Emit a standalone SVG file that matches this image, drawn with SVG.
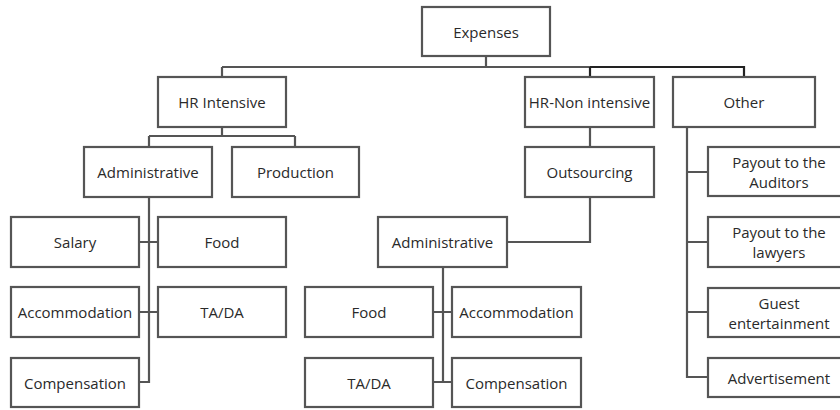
<svg xmlns="http://www.w3.org/2000/svg" width="840" height="410" viewBox="0 0 840 410">
<style>
rect.n{fill:#fff;stroke:#555;stroke-width:2.2}
text{font-family:"Open Sans","Liberation Sans",sans-serif;font-size:15px;fill:#2a2a2a;text-anchor:middle;dominant-baseline:central}
.c path{fill:none;stroke:#555;stroke-width:2.2}
</style>
<rect width="840" height="410" fill="#fff"/>
<g class="c" id="connectors">
<path d="M486 56V67M222 67H590"/>
<path d="M590 67H744V77M590 67V77" style="stroke:#222"/>
<path d="M222 67V77"/>
<path d="M222 127V136M149 136H295M149 136V147M295 136V147"/>
<path d="M149 197V382H139M139 242H158M139 312H158"/>
<path d="M590 127V147M590 197V242H507"/>
<path d="M443 267V382M433 312H452M433 382H452"/>
<path d="M687 127V377H708M687 172H708M687 242H708M687 312H708"/>
</g>
<g id="expenses"><rect class="n" x="422" y="7" width="128" height="49"/><text x="486" y="31.5">Expenses</text></g>
<g id="hr-intensive"><rect class="n" x="158" y="77" width="128" height="50"/><text x="222" y="102">HR Intensive</text></g>
<g id="hr-non-intensive"><rect class="n" x="525" y="77" width="129" height="50"/><text x="589.5" y="102">HR-Non intensive</text></g>
<g id="other"><rect class="n" x="673" y="77" width="142" height="50"/><text x="744" y="102">Other</text></g>
<g id="administrative-1"><rect class="n" x="84" y="147" width="128" height="50"/><text x="148" y="172">Administrative</text></g>
<g id="production"><rect class="n" x="232" y="147" width="127" height="50"/><text x="295.5" y="172">Production</text></g>
<g id="outsourcing"><rect class="n" x="525" y="147" width="129" height="50"/><text x="589.5" y="172">Outsourcing</text></g>
<g id="salary"><rect class="n" x="11" y="217" width="128" height="50"/><text x="75" y="242">Salary</text></g>
<g id="food-1"><rect class="n" x="158" y="217" width="128" height="50"/><text x="222" y="242">Food</text></g>
<g id="accommodation-1"><rect class="n" x="11" y="287" width="128" height="50"/><text x="75" y="312">Accommodation</text></g>
<g id="tada-1"><rect class="n" x="158" y="287" width="128" height="50"/><text x="222" y="312">TA/DA</text></g>
<g id="compensation-1"><rect class="n" x="11" y="358" width="128" height="49"/><text x="75" y="382.5">Compensation</text></g>
<g id="administrative-2"><rect class="n" x="378" y="217" width="129" height="50"/><text x="442.5" y="242">Administrative</text></g>
<g id="food-2"><rect class="n" x="305" y="287" width="128" height="50"/><text x="369" y="312">Food</text></g>
<g id="accommodation-2"><rect class="n" x="452" y="287" width="129" height="50"/><text x="516.5" y="312">Accommodation</text></g>
<g id="tada-2"><rect class="n" x="305" y="358" width="128" height="49"/><text x="369" y="382.5">TA/DA</text></g>
<g id="compensation-2"><rect class="n" x="452" y="358" width="129" height="49"/><text x="516.5" y="382.5">Compensation</text></g>
<g id="auditors"><rect class="n" x="708" y="147" width="142" height="49"/><text x="779" y="162">Payout to the</text><text x="779" y="182">Auditors</text></g>
<g id="lawyers"><rect class="n" x="708" y="217" width="142" height="50"/><text x="779" y="232">Payout to the</text><text x="779" y="252">lawyers</text></g>
<g id="guest"><rect class="n" x="708" y="288" width="142" height="49"/><text x="779" y="302.5">Guest</text><text x="779" y="322.5">entertainment</text></g>
<g id="advertisement"><rect class="n" x="708" y="358" width="142" height="39"/><text x="779" y="377.5">Advertisement</text></g>
</svg>
